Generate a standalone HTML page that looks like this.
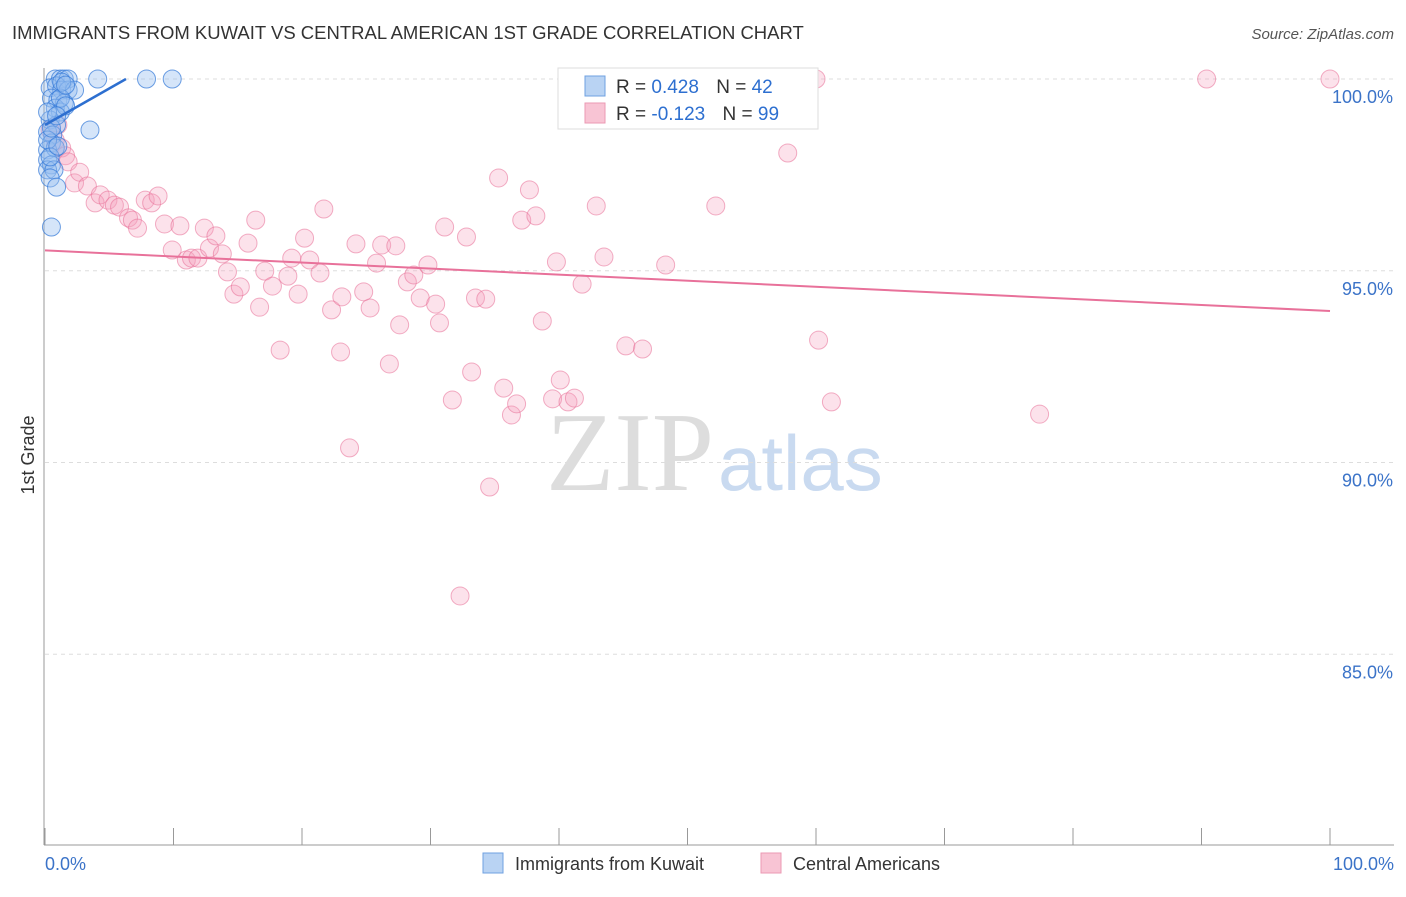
<!DOCTYPE html>
<html><head><meta charset="utf-8"><style>
body{margin:0;background:#fff;font-family:"Liberation Sans",sans-serif;}
</style></head><body>
<svg width="1406" height="892" xmlns="http://www.w3.org/2000/svg" font-family="Liberation Sans, sans-serif">
<text x="12" y="39" font-size="18.5" fill="#333">IMMIGRANTS FROM KUWAIT VS CENTRAL AMERICAN 1ST GRADE CORRELATION CHART</text>
<text x="1394" y="39" font-size="15" fill="#555" text-anchor="end" font-style="italic">Source: ZipAtlas.com</text>
<text x="714" y="490" font-size="112" fill="#ddd" text-anchor="end" font-family="Liberation Serif, serif">ZIP</text>
<text x="718" y="490" font-size="78" fill="#c9daf0">atlas</text>
<g id="grid"></g>
<line x1="44" y1="68" x2="44" y2="845" stroke="#999"/>
<line x1="44" y1="845" x2="1394" y2="845" stroke="#999"/>
<g id="ticks"></g>
<text x="34" y="455" font-size="18" fill="#333" text-anchor="middle" transform="rotate(-90 34 455)">1st Grade</text>
<text x="45" y="870" font-size="18" fill="#3b73c8">0.0%</text>
<text x="1394" y="870" font-size="18" fill="#3b73c8" text-anchor="end">100.0%</text>
<g id="pts"></g>
<g id="lines"></g>
<g>
<rect x="558" y="68" width="260" height="61" fill="#fff" stroke="#ddd"/>
<rect x="585" y="76" width="20" height="20" fill="#b9d3f3" stroke="#6fa0e0"/>
<rect x="585" y="103" width="20" height="20" fill="#f8c4d4" stroke="#eb9ab3"/>
<text x="616" y="93" font-size="19" fill="#333">R =  <tspan fill="#2d6fd0">0.428</tspan>  <tspan dx="12">N = </tspan><tspan fill="#2d6fd0">42</tspan></text>
<text x="616" y="120" font-size="19" fill="#333">R = <tspan fill="#2d6fd0">-0.123</tspan> <tspan dx="12">N = </tspan><tspan fill="#2d6fd0">99</tspan></text>
</g>
<g>
<rect x="483" y="853" width="20" height="20" fill="#b9d3f3" stroke="#6fa0e0"/>
<text x="515" y="870" font-size="18" fill="#333">Immigrants from Kuwait</text>
<rect x="761" y="853" width="20" height="20" fill="#f8c4d4" stroke="#eb9ab3"/>
<text x="793" y="870" font-size="18" fill="#333">Central Americans</text>
</g>
</svg>
<script>
const yTicks=[100,95,90,85];
const yTickLabels=["100.0%","95.0%","90.0%","85.0%"];
const xTicks=[0,10,20,30,40,50,60,70,80,90,100];
const blueX=[0.8,1.2,1.5,1.8,4.1,7.9,9.9,0.4,0.9,1.3,1.8,2.3,0.5,1.0,1.5,0.8,1.2,0.4,0.9,0.2,0.6,3.5,0.5,0.2,0.8,0.2,0.5,0.2,0.7,0.4,0.9,0.5,1.2,1.6,0.2,0.4,1.0,1.3,1.6,0.5,0.2,0.9];
const blueY=[100,100,100,100,100,100,100,99.77,99.82,99.71,99.71,99.71,99.5,99.45,99.37,99.24,99.14,98.93,98.8,98.62,98.54,98.67,98.33,98.15,98.2,97.89,97.76,97.63,97.63,97.42,97.18,96.14,99.5,99.3,98.41,97.97,98.25,99.92,99.84,98.72,99.14,99.04];
const pinkX=[0.4,0.8,1.0,1.3,1.6,1.8,2.3,2.7,3.3,3.9,4.3,4.9,5.4,5.8,6.5,6.8,7.2,7.8,8.3,8.8,9.3,9.9,10.5,11.0,11.4,11.9,12.4,12.8,13.3,13.8,14.2,14.7,15.2,15.8,16.4,16.7,17.1,17.7,18.3,18.9,19.2,19.7,20.2,20.6,21.4,21.7,22.3,23.0,23.1,23.7,24.2,24.8,25.3,25.8,26.2,26.8,27.3,27.6,28.2,28.7,29.2,29.8,30.4,30.7,31.1,31.7,32.3,32.8,33.2,33.5,34.3,34.6,35.3,35.7,36.3,36.7,37.1,37.7,38.2,38.7,39.5,39.8,40.1,40.7,41.2,41.8,42.9,43.5,45.2,46.5,48.3,49.1,52.2,57.8,60.0,60.2,61.2,77.4,90.4,100];
const pinkY=[98.67,98.4,98.8,98.2,98.0,97.84,97.29,97.57,97.21,96.77,96.98,96.84,96.71,96.66,96.38,96.32,96.11,96.84,96.77,96.95,96.22,95.54,96.17,95.28,95.33,95.33,96.11,95.59,95.91,95.44,94.97,94.39,94.58,95.72,96.32,94.05,94.99,94.6,92.93,94.86,95.33,94.39,95.85,95.28,94.94,96.61,93.98,92.88,94.32,90.38,95.7,94.45,94.03,95.2,95.67,92.57,95.65,93.59,94.71,94.89,94.29,95.15,94.13,93.64,96.14,91.63,86.52,95.88,92.36,94.29,94.26,89.36,97.42,91.94,91.24,91.53,96.32,97.11,96.43,93.69,91.66,95.23,92.15,91.58,91.68,94.65,96.69,95.36,93.04,92.96,95.15,99.97,96.69,98.07,100,93.19,91.58,91.26,100,100];
const blueTrend=[[0,98.8],[6.3,100]];
const pinkTrend=[[0,95.53],[100,93.95]];
const NS="http://www.w3.org/2000/svg";
const X=v=>45+v*12.85, Y=v=>79+(100-v)*38.35;
function mk(t,a,p){const e=document.createElementNS(NS,t);for(const k in a)e.setAttribute(k,a[k]);document.getElementById(p).appendChild(e);return e;}
yTicks.forEach((t,i)=>{
 const l=mk('line',{x1:45,x2:1394,y1:Y(t),y2:Y(t),stroke:'#ddd','stroke-dasharray':'4,4'},'grid');
 
 
 const tx=mk('text',{x:1393,y:Y(t)+24,'font-size':18,fill:'#3b73c8','text-anchor':'end'},'grid');
 tx.textContent=yTickLabels[i];
 
 
});
xTicks.forEach(t=>{
 const l=mk('line',{x1:X(t),x2:X(t),y1:828,y2:845,stroke:'#999'},'ticks');
 
 
});
pinkX.forEach((x,i)=>{
 const c=mk('circle',{cx:X(x),cy:Y(pinkY[i]),r:9,fill:'rgba(244,160,188,0.3)',stroke:'rgba(232,110,150,0.55)','stroke-width':1},'pts');
 
 
});
blueX.forEach((x,i)=>{
 const c=mk('circle',{cx:X(x),cy:Y(blueY[i]),r:9,fill:'rgba(150,190,240,0.4)',stroke:'rgba(50,120,215,0.7)','stroke-width':1},'pts');
 
 
});
const bl=mk('line',{x1:X(blueTrend[0][0]),y1:Y(blueTrend[0][1]),x2:X(blueTrend[1][0]),y2:Y(blueTrend[1][1]),stroke:'#2d6fd0','stroke-width':2.5},'lines');


const pl=mk('line',{x1:X(pinkTrend[0][0]),y1:Y(pinkTrend[0][1]),x2:X(pinkTrend[1][0]),y2:Y(pinkTrend[1][1]),stroke:'#e8719a','stroke-width':2},'lines');


</script>
</body></html>
